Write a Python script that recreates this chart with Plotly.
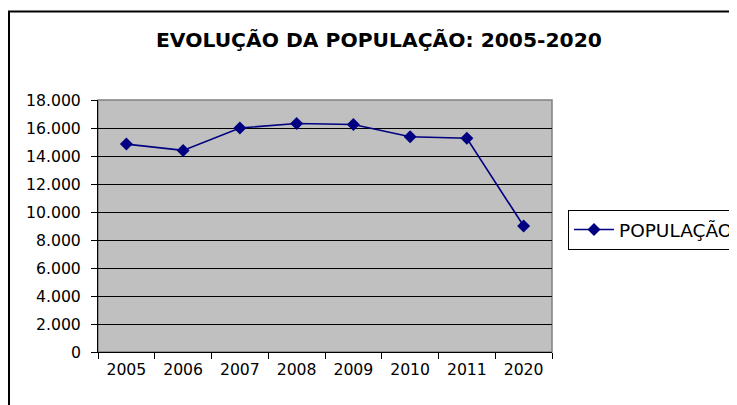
import plotly.graph_objects as go

# Dati
anni = ["2005", "2006", "2007", "2008", "2009", "2010", "2011", "2020"]
populacao = [14850, 14400, 16000, 16320, 16250, 15380, 15270, 9000]

# la pagina html sposta la figura di 8px (margine del body)
OFF = 8
W, H = 737, 405
L, T = 98 - OFF, 100 - OFF
pw, ph = 454, 252
R, B = W - L - pw, H - T - ph


def px_x(x):
    return (x - OFF - L) / pw


def px_y(y):
    return (T + ph - (y - OFF)) / ph


FONT = "DejaVu Sans, Arial, sans-serif"

fig = go.Figure()

fig.add_trace(
    go.Scatter(
        x=anni,
        y=populacao,
        mode="lines+markers",
        name="POPULAÇÃO",
        line=dict(color="#000080", width=1.6),
        marker=dict(symbol="diamond", size=10, color="#000080"),
    )
)

# cornice esterna del grafico
fig.add_shape(
    type="rect", xref="paper", yref="paper",
    x0=px_x(9), x1=px_x(780), y0=px_y(11.5), y1=px_y(440),
    line=dict(color="#000000", width=2),
)
# bordo area di plot (grigio)
fig.add_shape(
    type="rect", xref="paper", yref="paper",
    x0=0, x1=1, y0=0, y1=1,
    line=dict(color="#808080", width=1.5),
    layer="below",
)

fig.update_layout(
    width=W,
    height=H,
    margin=dict(l=L, r=R, t=T, b=B),
    paper_bgcolor="white",
    plot_bgcolor="#C0C0C0",
    separators=",.",
    font=dict(family=FONT, color="#000000"),
    title=dict(
        text="<b>EVOLUÇÃO DA POPULAÇÃO: 2005-2020</b>",
        font=dict(size=20.3),
        x=(379 - OFF) / W, xanchor="center", xref="container",
        y=1 - (40 - OFF) / H, yanchor="middle", yref="container",
    ),
    showlegend=True,
    legend=dict(
        x=(568 - OFF) / W, xref="container", xanchor="left",
        y=1 - (210 - OFF) / H, yref="container", yanchor="top",
        bordercolor="#000000", borderwidth=1,
        bgcolor="white",
        font=dict(size=18.5),
        itemwidth=40,
    ),
    xaxis=dict(
        type="category",
        range=[-0.5, 7.5],
        tickson="boundaries",
        ticks="outside", ticklen=6, tickcolor="#000000",
        ticklabelstandoff=3,
        showgrid=False,
        showline=True, linecolor="#000000", linewidth=1,
        tickfont=dict(size=15.7),
        fixedrange=True,
    ),
    yaxis=dict(
        range=[0, 18000],
        dtick=2000,
        tickformat=",d",
        ticks="outside", ticklen=6, tickcolor="#000000",
        ticklabelstandoff=7,
        showgrid=True, gridcolor="#000000", gridwidth=1,
        showline=True, linecolor="#000000", linewidth=1,
        zeroline=False,
        tickfont=dict(size=15.7),
        fixedrange=True,
    ),
)

fig.write_html("out.html")
